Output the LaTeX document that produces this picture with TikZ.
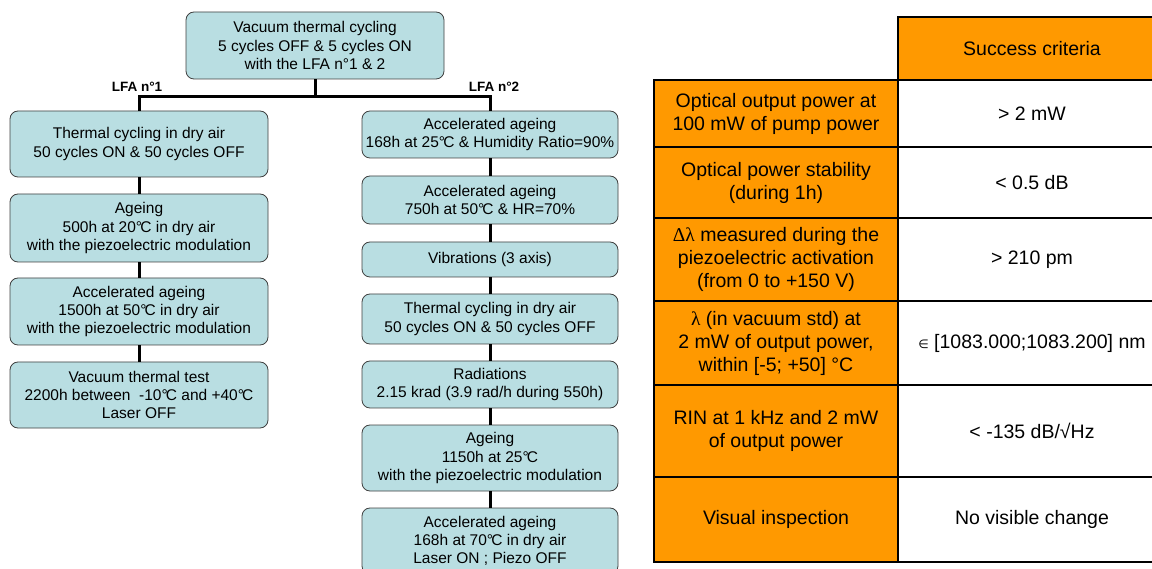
\documentclass[tikz,border=0pt]{standalone}
\usepackage{fontspec}
\setmainfont{Liberation Sans}
\newfontfamily\greekfont{Liberation Serif}
\newfontfamily\symbfont{DejaVu Sans}

\definecolor{stagefill}{RGB}{185,222,226}
\definecolor{critorange}{RGB}{255,153,0}
\newcommand{\dC}{°\kern-0.12em C}

\begin{document}
\begin{tikzpicture}[x=1pt, y=-1pt]

\useasboundingbox (0,0) rectangle (1152,569);
\clip (0,0) rectangle (1152,569);

% styles
\pgfkeys{/stage/.style={draw=black!75, line width=0.8pt, fill=stagefill, rounded corners=8pt, align=center, inner sep=0pt, font=\fontsize{15.5}{18.3}\selectfont}} % test boxes
\pgfkeys{/link/.style={line width=3pt}} % connectors
\pgfkeys{/lfa/.style={font=\fontsize{13.5}{15}\selectfont\bfseries, inner sep=0pt}} % branch labels
\pgfkeys{/cell/.style={draw, line width=2pt, align=center, inner sep=0pt, font=\fontsize{19.5}{23}\selectfont}} % table cells
\pgfkeys{/crit/.style={/cell, fill=critorange, minimum width=244pt}}
\pgfkeys{/val/.style={/cell, fill=white, minimum width=268pt}}

% top box
\node[/stage, minimum width=258pt, minimum height=67pt] (vtc) at (315,45.5) {Vacuum thermal cycling\\5 cycles OFF \& 5 cycles ON\\with the LFA n°1 \& 2};
\coordinate (bar) at (315,97);

% LFA n1
\foreach \j/\yc/\h/\txt in {
1/144/66/{Thermal cycling in dry air\\50 cycles ON \& 50 cycles OFF},
2/228/68/{Ageing\\500h at 20\dC{} in dry air\\with the piezoelectric modulation},
3/311.5/67/{Accelerated ageing\\1500h at 50\dC{} in dry air\\with the piezoelectric modulation},
4/395/66/{Vacuum thermal test\\2200h between \ -10\dC{} and +40\dC\\Laser OFF}} {
\node[/stage, minimum width=258pt, minimum height=\h pt] (one\j) at (139,\yc) {\txt};
}

% LFA n2
\foreach \j/\yc/\h/\txt in {
1/134.5/47/{Accelerated ageing\\168h at 25\dC{} \& Humidity Ratio=90\%},
2/200/48/{Accelerated ageing\\750h at 50\dC{} \& HR=70\%},
3/259.5/35/{Vibrations (3 axis)},
4/319/50/{Thermal cycling in dry air\\50 cycles ON \& 50 cycles OFF},
5/384.5/47/{Radiations\\2.15 krad (3.9 rad/h during 550h)},
6/458/66/{Ageing\\1150h at 25\dC\\with the piezoelectric modulation},
7/541/66/{Accelerated ageing\\168h at 70\dC{} in dry air\\Laser ON ; Piezo OFF}} {
\node[/stage, minimum width=256pt, minimum height=\h pt] (two\j) at (490,\yc) {\txt};
}

% branches
\draw[/link] (vtc) -- (vtc |- bar);
\draw[/link] (one1) -- (one1 |- bar) -- (two1 |- bar) -- (two1);
\foreach \j [count=\k from 2] in {1,...,3} {
\draw[/link] (one\j) -- (one\k);
}
\foreach \j [count=\k from 2] in {1,...,6} {
\draw[/link] (two\j) -- (two\k);
}
\node[/lfa] (lfa1) at (137,87) {LFA n°1};
\node[/lfa] (lfa2) at (494,87) {LFA n°2};

% success criteria table
\node[/cell, fill=critorange, minimum width=268pt, minimum height=63pt] (head) at (1032,48.5) {Success criteria};
\foreach \j/\yc/\h/\crit/\val in {
1/113.5/67/{Optical output power at\\100 mW of pump power}/{> 2 mW},
2/182.5/71/{Optical power stability\\(during 1h)}/{< 0.5 dB},
3/259.5/83/{{\greekfont Δλ} measured during the\\piezoelectric activation\\(from 0 to +150 V)}/{> 210 pm},
4/343/84/{{\greekfont λ} (in vacuum std) at\\2 mW of output power,\\within [-5; +50] °C}/{{\symbfont\fontsize{12}{12}\selectfont ∈} [1083.000;1083.200] nm},
5/431/92/{RIN at 1 kHz and 2 mW\\of output power}/{< -135 dB/√Hz},
6/519.5/85/{Visual inspection}/{No visible change}} {
\node[/crit, minimum height=\h pt] (crit\j) at (776,\yc) {\crit};
\node[/val, minimum height=\h pt] (val\j) at (1032,\yc) {\val};
}

\end{tikzpicture}
\end{document}
